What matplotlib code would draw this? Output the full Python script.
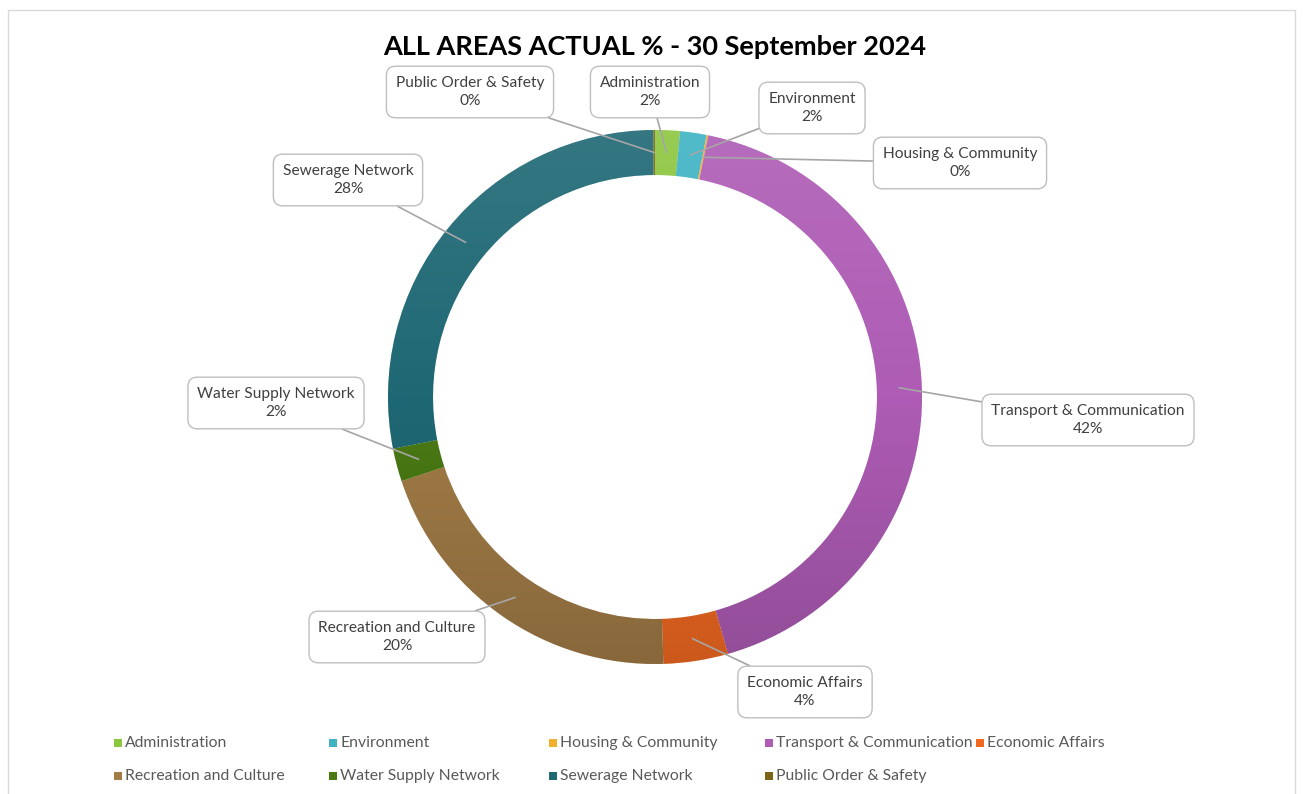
import numpy as np
import matplotlib.pyplot as plt
from matplotlib.patches import Rectangle
from matplotlib.colors import LinearSegmentedColormap, to_rgb

plt.rcParams['font.family'] = ['Lato', 'DejaVu Sans']

categories = ['Administration', 'Environment', 'Housing & Community',
              'Transport & Communication', 'Economic Affairs',
              'Recreation and Culture', 'Water Supply Network',
              'Sewerage Network', 'Public Order & Safety']
actual_pct = [1.5, 1.6, 0.1, 42.4, 3.9, 20.4, 2.0, 28.0, 0.1]
colors = ['#8CC63F', '#3FB3C4', '#F2B02E', '#AE5CB5', '#F26A21',
          '#A27C47', '#4A7A14', '#1E6874', '#7A6516']

# label box centres, pixels from top-left
label_pos = [(650, 92), (812, 108), (960, 163), (1088, 420), (805, 692),
             (397, 637), (276, 403), (348, 180), (470, 92)]

W, H = 1303, 794
cx, cy = 655, 397
R, ring = 267, 45

fig = plt.figure(figsize=(W / 100, H / 100), dpi=100)
ax = fig.add_axes([0, 0, 1, 1])
wedges, _ = ax.pie(actual_pct, colors=colors, startangle=90, counterclock=False,
                   radius=R, center=(cx, H - cy),
                   wedgeprops=dict(width=ring, edgecolor='white', linewidth=0.5))
ax.set_xlim(0, W)
ax.set_ylim(0, H)
ax.set_aspect('equal')
ax.axis('off')

# soft vertical shading like the Excel ring
grad = np.linspace(0, 1, 256).reshape(-1, 1)
for w, c in zip(wedges, colors):
    base = np.array(to_rgb(c))
    top = base + (1 - base) * 0.10
    bottom = base * 0.84
    cmap = LinearSegmentedColormap.from_list('g', [top, base, bottom])
    im = ax.imshow(grad, cmap=cmap, aspect='auto', origin='upper',
                   extent=(cx - R, cx + R, H - cy - R, H - cy + R), zorder=1.5)
    im.set_clip_path(w)
ax.set_xlim(0, W)
ax.set_ylim(0, H)

r_anchor = R - ring / 2
for w, name, val, (lx, ly) in zip(wedges, categories, actual_pct, label_pos):
    ang = np.deg2rad((w.theta1 + w.theta2) / 2)
    px = cx + r_anchor * np.cos(ang)
    py = H - cy + r_anchor * np.sin(ang)
    ax.annotate(f'{name}\n{val:.0f}%', xy=(px, py), xytext=(lx, H - ly),
                ha='center', va='center', fontsize=11.2, color='#404040',
                linespacing=1.45, zorder=3,
                bbox=dict(boxstyle='round,pad=0.6,rounding_size=0.6',
                          fc='white', ec='#BFBFBF', lw=1),
                arrowprops=dict(arrowstyle='-', color='#A6A6A6', lw=1.2,
                                shrinkA=0, shrinkB=0))

fig.text(cx / W, 1 - 47 / H, 'ALL AREAS ACTUAL % - 30 September 2024',
         fontsize=19.5, fontweight='bold', ha='center', va='center')

# legend, Excel style fixed columns, filled row by row
col_x = [118, 333, 553, 769, 980]
row_y = [743, 776]
for i, (name, c) in enumerate(zip(categories, colors)):
    x = col_x[i % 5]
    y = row_y[i // 5]
    fig.patches.append(Rectangle(((x - 4) / W, 1 - (y + 4) / H), 8 / W, 8 / H,
                                 transform=fig.transFigure, fc=c, ec='none'))
    fig.text((x + 7) / W, 1 - y / H, name, fontsize=11.3, color='#595959',
             ha='left', va='center')

fig.patches.append(Rectangle((8 / W, -0.01), (1295 - 8) / W, 1 - 10 / H + 0.01,
                             transform=fig.transFigure, fill=False,
                             ec='#D9D9D9', lw=1))

fig.savefig('out.png', dpi=100)
